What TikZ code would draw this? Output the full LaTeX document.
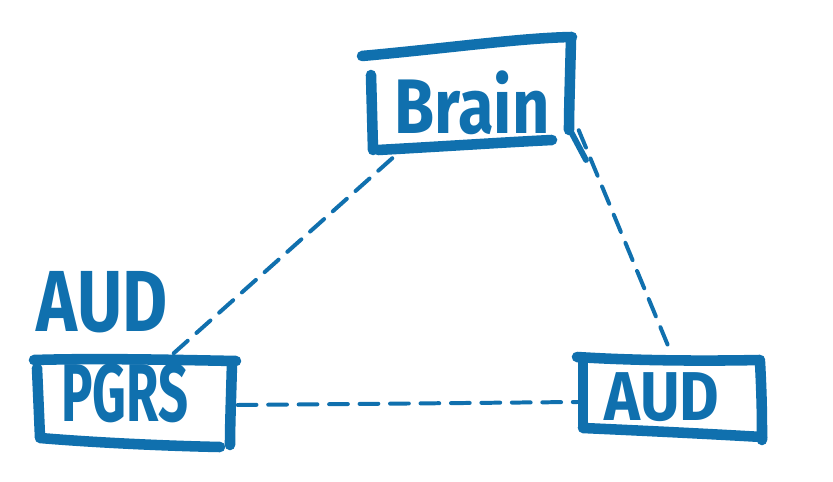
\documentclass[tikz,border=0pt]{standalone}
\usepackage{fontspec}
\usepackage{graphicx}
\setmainfont{Fira Sans}
\usetikzlibrary{calc}
\definecolor{ink}{HTML}{1070AE}
\begin{document}
\begin{tikzpicture}[x=0.03cm,y=-0.03cm,
  stroke/.style={draw=ink,line width=9pt,line cap=round,line join=round},
  thinstroke/.style={draw=ink,line width=5pt,line cap=round},
  link/.style={draw=ink,line width=3.4pt,line cap=round,dash pattern=on 16pt off 10pt},
  boxnode/.style={draw=none,inner sep=0pt},
  lab/.style={inner sep=0pt,text=ink}]
\useasboundingbox (0,0) rectangle (833,482);
% nodes
\node[boxnode,minimum width=205*0.03cm,minimum height=110*0.03cm] (brain) at (470,95) {};
\node[boxnode,minimum width=197*0.03cm,minimum height=84*0.03cm] (pgrs) at (135,403) {};
\node[boxnode,minimum width=180*0.03cm,minimum height=75*0.03cm] (aud) at (672,398) {};
\node[lab,font=\fontsize{66}{70}\selectfont\bfseries] (brainT) at (472,103) {\scalebox{0.84}[1]{Brain}};
\node[lab,font=\fontsize{70}{74}\selectfont\bfseries] (pgrsT) at (125,393) {\scalebox{0.64}[1]{PGRS}};
\node[lab,font=\fontsize{59}{63}\selectfont\bfseries] (audT) at (662,397) {\scalebox{0.88}[1]{AUD}};
\node[lab,font=\fontsize{74}{78}\selectfont\bfseries] (audL) at (102,302) {\scalebox{0.8}[1]{AUD}};
% Brain box strokes
\draw[stroke] (362,56) .. controls (450,48) and (520,38) .. (572,37);
\draw[stroke] (571,39) .. controls (570,80) and (569,110) .. (569,130);
\draw[thinstroke] (569,128) -- (586,160);
\draw[stroke] (371,75) -- (373,150);
\draw[stroke] (378,150) .. controls (450,146) and (510,142) .. (552,140);
% PGRS box strokes
\draw[stroke] (34,360) .. controls (100,358) and (180,360) .. (236,361);
\draw[stroke] (232,363) .. controls (231,400) and (230,425) .. (230,445);
\draw[stroke] (37,368) -- (40,437);
\draw[stroke] (40,438) .. controls (100,443) and (170,446) .. (220,447);
% AUD box strokes
\draw[stroke] (577,357) .. controls (640,361) and (710,361) .. (760,360);
\draw[stroke] (760,362) .. controls (762,400) and (762,420) .. (762,440);
\draw[stroke] (583,362) -- (583,427);
\draw[stroke] (583,428) .. controls (650,431) and (710,434) .. (762,437);
% connectors
\draw[link] ($(brain.south west)+(25,8)$) -- ($(pgrs.north)+(37,-6)$);
\draw[link] ($(brain.south east)+(6,-20)$) -- ($(aud.north)+(0,-5)$);
\draw[link] ($(pgrs.east)+(4,2)$) -- ($(aud.west)+(-4,4)$);
\end{tikzpicture}
\end{document}
